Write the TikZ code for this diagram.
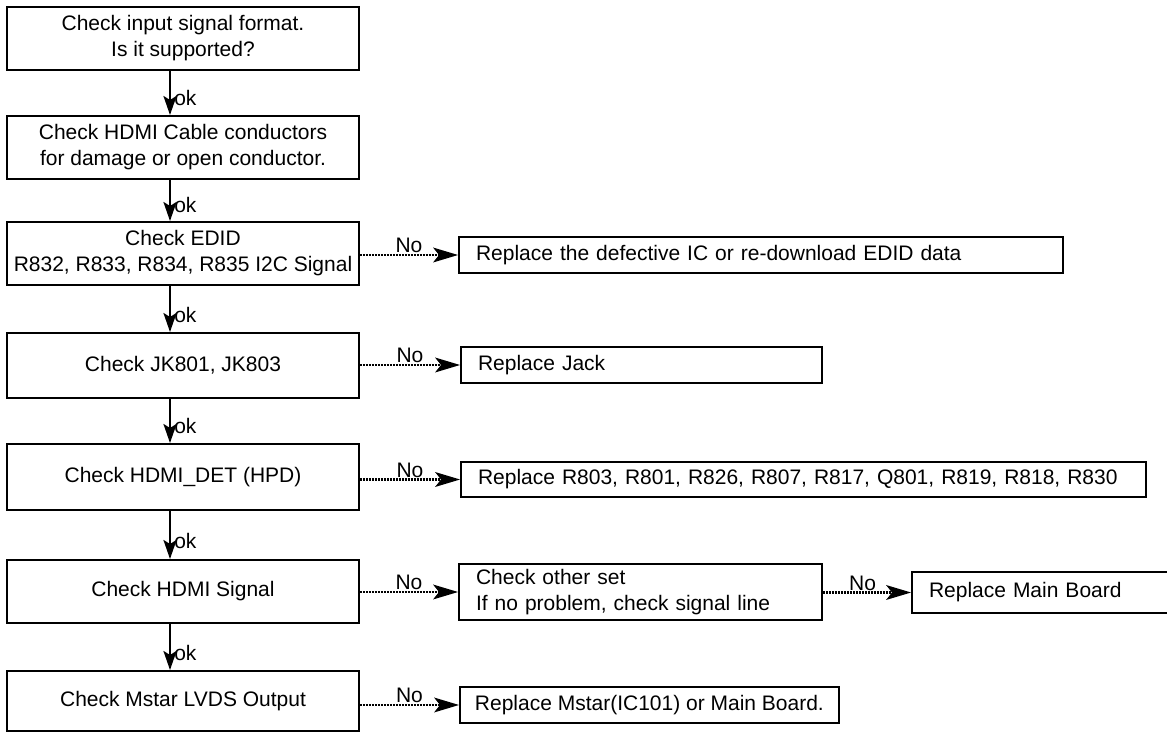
\documentclass[tikz,border=0pt]{standalone}
\usepackage{fontspec}
\setmainfont{Liberation Sans}
\usetikzlibrary{arrows.meta}
\begin{document}
\begin{tikzpicture}[x=0.02cm,y=-0.02cm,
  every node/.style={font=\fontsize{11.95}{14.8}\selectfont},
  lbox/.style={draw, line width=1.1pt, minimum width=7.04cm, align=center, inner sep=0pt},
  rbox/.style={draw, line width=1.1pt, align=left, inner xsep=0.34cm, inner ysep=0pt},
  varrow/.style={line width=1.5pt, -{Stealth[length=0.38cm,width=0.26cm,inset=0.08cm]}},
  narrow/.style={line width=1.5pt, dash pattern=on 1.1pt off 0.6pt, -{Stealth[length=0.5cm,width=0.3cm,inset=0.12cm,line width=0pt]}},
  oklab/.style={right, inner sep=0pt, xshift=0.06cm},
  nolab/.style={above, inner sep=0.5pt}
]
\useasboundingbox (0,0) rectangle (1167,732);
\coordinate (ax) at (170,0);
% left column
\node[lbox, minimum height=1.26cm] (b1) at (183,38.5) {Check input signal format.\\Is it supported?};
\node[lbox, minimum height=1.26cm] (b2) at (183,147.5) {Check HDMI Cable conductors\\for damage or open conductor.};
\node[lbox, minimum height=1.26cm] (b3) at (183,253.5) {Check EDID\\R832, R833, R834, R835 I2C Signal};
\node[lbox, minimum height=1.30cm] (b4) at (183,365.5) {Check JK801, JK803};
\node[lbox, minimum height=1.32cm] (b5) at (183,477) {Check HDMI\_DET (HPD)};
\node[lbox, minimum height=1.26cm] (b6) at (183,591.5) {Check HDMI Signal};
\node[lbox, minimum height=1.20cm] (b7) at (183,701) {Check Mstar LVDS Output};
% right column
\node[rbox, minimum height=0.72cm, text width=604*0.02cm-0.68cm] (r3) at (761,255) {Replace the defective IC or re-download EDID data};
\node[rbox, minimum height=0.72cm, text width=361*0.02cm-0.68cm] (r4) at (641.5,365) {Replace Jack};
\node[rbox, minimum height=0.70cm, text width=685*0.02cm-0.68cm] (r5) at (803.5,479.5) {Replace R803, R801, R826, R807, R817, Q801, R819, R818, R830};
\node[rbox, minimum height=1.12cm, text width=363*0.02cm-0.68cm] (r6) at (640.5,592) {Check other set\\If no problem, check signal line};
\node[rbox, minimum height=0.82cm, text width=258*0.02cm-0.68cm] (r6b) at (1041,592.5) {Replace Main Board};
\node[rbox, minimum height=0.72cm, inner xsep=0.3cm, anchor=west] (r7) at (459,705) {Replace Mstar(IC101) or Main Board.};
% ok arrows
\draw[varrow] (b1.south -| ax) -- node[oklab, pos=0.62] {ok} (b2.north -| ax);
\draw[varrow] (b2.south -| ax) -- node[oklab, pos=0.62] {ok} (b3.north -| ax);
\draw[varrow] (b3.south -| ax) -- node[oklab, pos=0.62] {ok} (b4.north -| ax);
\draw[varrow] (b4.south -| ax) -- node[oklab, pos=0.62] {ok} (b5.north -| ax);
\draw[varrow] (b5.south -| ax) -- node[oklab, pos=0.62] {ok} (b6.north -| ax);
\draw[varrow] (b6.south -| ax) -- node[oklab, pos=0.62] {ok} (b7.north -| ax);
% No arrows
\draw[narrow] (b3.east |- r3.west) -- node[nolab] {No} (r3.west);
\draw[narrow] (b4.east |- r4.west) -- node[nolab] {No} (r4.west);
\draw[narrow] (b5.east |- r5.west) -- node[nolab] {No} (r5.west);
\draw[narrow] (b6.east |- r6.west) -- node[nolab] {No} (r6.west);
\draw[narrow] (r6.east |- r6b.west) -- node[nolab, pos=0.45] {No} (r6b.west);
\draw[narrow] (b7.east |- r7.west) -- node[nolab] {No} (r7.west);
\end{tikzpicture}
\end{document}
